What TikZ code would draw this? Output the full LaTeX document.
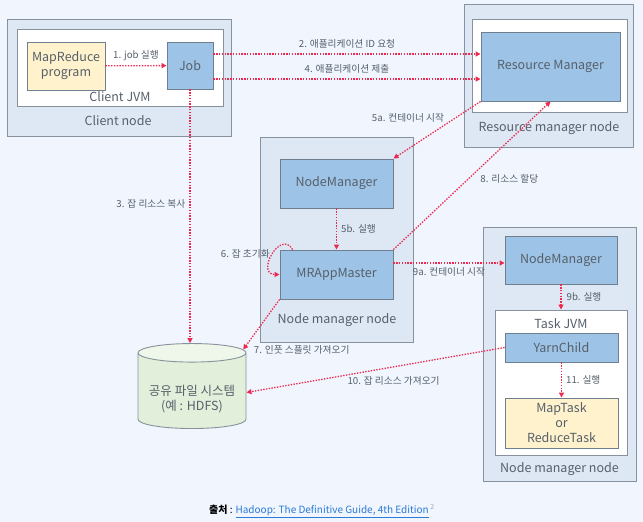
\documentclass[tikz,border=0pt]{standalone}
\usepackage{fontspec}
\setmainfont{Noto Sans CJK KR}
\usetikzlibrary{positioning,arrows.meta,shapes.geometric}
\definecolor{bgcol}{HTML}{F0F5FE}
\definecolor{hostfill}{HTML}{DEE8F4}
\definecolor{hostline}{HTML}{87929E}
\definecolor{procfill}{HTML}{9DC3E6}
\definecolor{procline}{HTML}{6F7F8F}
\definecolor{progfill}{HTML}{FFF2CC}
\definecolor{fsbody}{HTML}{E2EFDA}
\definecolor{fstop}{HTML}{EFF6EA}
\definecolor{flowred}{HTML}{EC2A50}
\definecolor{txtgray}{HTML}{56606B}
\definecolor{linkblue}{HTML}{2A7AD6}
\def\boxfont{\fontsize{12.5}{15}\selectfont}
\def\stepfont{\fontsize{9.7}{11}\selectfont}

\begin{document}
\begin{tikzpicture}[>={Triangle[width=5pt,length=5pt]}, shorten >=0pt,
	host/.style={draw=hostline, fill=hostfill, line width=0.9pt},
	jvm/.style={draw=hostline, fill=white, line width=0.9pt},
	proc/.style={draw=procline, fill=procfill, line width=0.9pt, text=txtgray, font=\boxfont, align=center},
	prog/.style={draw=procline, fill=progfill, line width=0.9pt, text=txtgray, font=\boxfont, align=center},
	title/.style={text=txtgray, font=\boxfont, align=center},
	lbl/.style={text=txtgray, font=\stepfont, inner sep=1pt},
	flow/.style={draw=flowred, line width=1.3pt, dash pattern=on 1.4pt off 1.4pt}]
	\fill[bgcol] (0pt, 0pt) rectangle (643pt, -522pt);
	\useasboundingbox (0pt, 0pt) rectangle (643pt, -522pt);
	% client side
	\draw (119.0pt, -77.5pt)node[host, minimum width=224pt, minimum height=117pt](cnode){};
	\draw (120.0pt, -67.5pt)node[jvm, minimum width=206pt, minimum height=77pt](cjvm){};
	\draw (66.0pt, -66.0pt)node[prog, minimum width=78pt, minimum height=48pt](mrp){MapReduce\\program};
	\draw (190.0pt, -65.5pt)node[proc, minimum width=46pt, minimum height=47pt](job){Job};
	\draw (120.0pt, -97.0pt)node[title](cjvmtxt){Client JVM};
	\draw (118.0pt, -120.5pt)node[title](cnodetxt){Client node};
	% resource manager
	\draw (548.5pt, -75.5pt)node[host, minimum width=169pt, minimum height=143pt](rmnode){};
	\draw (549.5pt, -65.5pt)node[jvm, minimum width=155pt, minimum height=93pt](rmjvm){};
	\draw (550.5pt, -66.5pt)node[proc, minimum width=139pt, minimum height=69pt](rm){Resource Manager};
	\draw (549.0pt, -128.0pt)node[title](rmnodetxt){Resource manager node};
	% node manager (AM)
	\draw (336.5pt, -239.5pt)node[host, minimum width=153pt, minimum height=205pt](nmnodea){};
	\draw (336.5pt, -183.5pt)node[proc, minimum width=113pt, minimum height=49pt](nma){NodeManager};
	\draw (336.5pt, -274.5pt)node[proc, minimum width=113pt, minimum height=49pt](mram){MRAppMaster};
	\draw (337.0pt, -320.0pt)node[title](nmnodeatxt){Node manager node};
	% node manager (task)
	\draw (559.5pt, -354.0pt)node[host, minimum width=153pt, minimum height=254pt](nmnodeb){};
	\draw (561.0pt, -260.0pt)node[proc, minimum width=112pt, minimum height=48pt](nmb){NodeManager};
	\draw (561.0pt, -382.5pt)node[jvm, minimum width=132pt, minimum height=145pt](tjvm){};
	\draw (561.0pt, -323.5pt)node[title](tjvmtxt){Task JVM};
	\draw (561.5pt, -347.5pt)node[proc, minimum width=113pt, minimum height=29pt](yc){YarnChild};
	\draw (561.5pt, -423.0pt)node[prog, minimum width=113pt, minimum height=50pt](mt){MapTask\\or\\ReduceTask};
	\draw (559.5pt, -469.0pt)node[title](nmnodebtxt){Node manager node};
	% shared file system
	\draw (192.0pt, -392.5pt)node[cylinder, shape border rotate=90, aspect=0.2, minimum width=108pt, minimum height=85pt,
		draw=hostline, line width=0.9pt, cylinder uses custom fill, cylinder body fill=fsbody, cylinder end fill=fstop,
		font=\boxfont, align=center](hdfs){\phantom{공유 파일 시스템}\\\phantom{(예 : HDFS)}};
	\draw (192.0pt, -399.0pt)node[title](hdfstxt){공유 파일 시스템\\(예 : HDFS)};
	% steps
	\path[->] (mrp) edge[flow] node[lbl, above=3pt]{1. job 실행}(job);
	\path[->] ([yshift=11.5pt]job.east) edge[flow] node[lbl, above=4pt]{2. 애플리케이션 ID 요청}([yshift=11.5pt]job.east -| rm.west);
	\path[->] ([yshift=-13.5pt]job.east) edge[flow] node[lbl, above=4pt]{4. 애플리케이션 제출}([yshift=-13.5pt]job.east -| rm.west);
	\path[->] (job.south) edge[flow] node[lbl, left=3pt, pos=0.45]{3. 잡 리소스 복사}(job.south |- hdfs.north);
	\path[->] (rm.south west) edge[flow] node[lbl, above left, pos=0.4]{5a. 컨테이너 시작}(nma.north east);
	\path[->] (nma) edge[flow] node[lbl, right=3pt]{5b. 실행}(mram);
	\path[->] ([xshift=13pt]mram.north west) edge[flow, out=120, in=180, looseness=2.2] node[lbl, left=1pt]{6. 잡 초기화}(mram.west);
	\path[->] (mram.south west) edge[flow] node[lbl, right=9pt, pos=1]{7. 인풋 스플릿 가져오기}(hdfs.40);
	\path[->] (mram.north east) edge[flow] node[lbl, right=10pt, pos=0.48]{8. 리소스 할당}(rm.south);
	\path[->] ([yshift=-3pt]nmb.west -| mram.east) edge[flow] node[lbl, below=3pt]{9a. 컨테이너 시작}([yshift=-3pt]nmb.west);
	\path[->] (nmb) edge[flow] node[lbl, right=4pt]{9b. 실행}(tjvm);
	\path[->] (yc.west) edge[flow] node[lbl, below=8pt, pos=0.43]{10. 잡 리소스 가져오기}(hdfs.east);
	\path[->] (yc) edge[flow] node[lbl, right=3pt]{11. 실행}(mt);
	% source
	\draw (322.0pt, -511.0pt)node[font=\fontsize{10}{12}\selectfont](src){\textbf{출처} : \textcolor{linkblue}{\underline{Hadoop: The Definitive Guide, 4th Edition}}\,\textsuperscript{\textcolor{gray!70}{2}}};
\end{tikzpicture}
\end{document}
